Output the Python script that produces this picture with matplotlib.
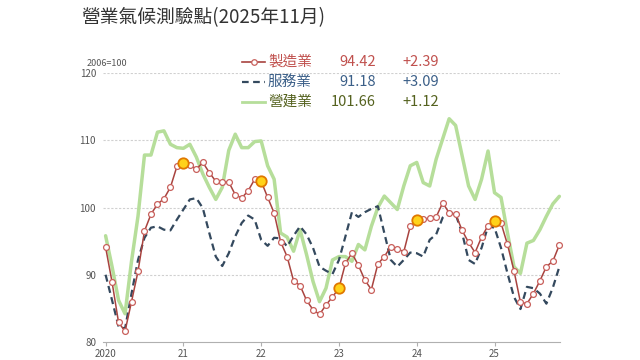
import numpy as np
import matplotlib
matplotlib.use("Agg")
import matplotlib.pyplot as plt
from matplotlib.lines import Line2D

plt.rcParams['font.family'] = ['Noto Sans CJK TC', 'DejaVu Sans']

# Monthly index, Jan 2020 .. Nov 2025 (2006=100)
year_labels = ["2020", "21", "22", "23", "24", "25"]

manufacturing = [94.1, 88.9, 82.9, 81.6, 86.0, 90.5, 96.5, 99.0, 100.5, 101.3, 103.0, 106.1,
                 106.6, 106.3, 105.7, 106.7, 105.2, 103.9, 103.8, 103.8, 101.9, 101.4, 102.5, 104.2,
                 103.9, 101.5, 99.2, 94.9, 92.7, 89.1, 88.4, 86.2, 84.8, 84.1, 85.5, 86.7,
                 88.0, 91.7, 93.2, 91.4, 89.2, 87.8, 91.6, 92.7, 94.2, 93.9, 93.4, 97.2,
                 98.1, 98.3, 98.4, 98.6, 100.7, 99.2, 99.0, 96.6, 94.8, 93.3, 95.6, 97.3,
                 98.0, 97.7, 94.5, 90.6, 85.9, 85.7, 87.2, 89.1, 91.2, 92.03, 94.42]

services = [90.0, 86.2, 82.3, 82.0, 87.2, 92.2, 95.5, 97.0, 97.2, 96.7, 96.6, 98.2,
            99.7, 101.2, 101.4, 99.9, 96.2, 92.7, 91.3, 93.2, 95.7, 97.7, 98.8, 98.2,
            95.2, 94.3, 95.5, 95.4, 94.2, 95.8, 97.2, 96.0, 94.0, 91.2, 90.6, 90.1,
            92.2, 95.7, 99.3, 98.6, 99.3, 99.8, 100.2, 96.2, 92.2, 91.2, 92.2, 93.3,
            93.2, 92.7, 95.2, 96.0, 98.5, 99.3, 99.0, 96.2, 92.2, 91.6, 94.0, 97.2,
            97.0, 94.0, 90.2, 86.7, 84.9, 88.2, 88.0, 87.2, 85.7, 88.09, 91.18]

construction = [95.8, 91.2, 86.2, 84.2, 92.0, 98.7, 107.8, 107.8, 111.2, 111.4, 109.4, 108.9,
                108.8, 109.4, 107.5, 105.0, 103.0, 101.2, 103.0, 108.5, 110.9, 108.9, 108.9, 109.8,
                109.9, 106.2, 104.2, 96.2, 95.6, 93.5, 96.7, 93.0, 89.0, 86.0, 88.0, 92.2,
                92.7, 92.7, 92.0, 94.5, 93.7, 97.2, 100.0, 101.7, 100.7, 99.7, 103.2, 106.2,
                106.7, 103.7, 103.2, 107.2, 110.2, 113.2, 112.2, 107.7, 103.2, 101.2, 104.2, 108.4,
                102.2, 101.5, 96.2, 91.2, 90.2, 94.7, 95.1, 96.7, 98.7, 100.54, 101.66]

highlight_idx = [12, 24, 36, 48, 60]

series_names = ["製造業", "服務業", "營建業"]
latest = ["94.42", "91.18", "101.66"]
changes = ["+2.39", "+3.09", "+1.12"]

title = "營業氣候測驗點(2025年11月)"

c_man = "#a8433f"
c_man_edge = "#c8605c"
c_srv = "#34495e"
c_con = "#b6de9a"
txt_colors = ["#c0504d", "#3b5f88", "#55621f"]

fig = plt.figure(figsize=(6.4, 3.6), dpi=100)
ax = fig.add_axes([103 / 640, 18 / 360, (560 - 103) / 640, (342 - 73) / 360])

x = np.arange(len(manufacturing))

ax.plot(x, construction, color=c_con, lw=2.5, solid_capstyle='round',
        solid_joinstyle='round', zorder=2, clip_on=False)
ax.plot(x, services, color=c_srv, lw=1.6, ls=(0, (3.2, 2.0)), zorder=3, clip_on=False)
ax.plot(x, manufacturing, color=c_man, lw=1.1, zorder=4, marker='o', ms=4.2,
        mfc='white', mec=c_man_edge, mew=0.9, clip_on=False)
ax.plot(x, manufacturing, ls='none', marker='o', ms=7.5, mfc='#ffd21a', mec='#e07800',
        mew=1.3, markevery=highlight_idx, zorder=5, clip_on=False)

ax.set_xlim(-0.4, 70.1)
ax.set_ylim(80, 120)
ax.set_yticks([80, 90, 100, 110, 120])
ax.set_yticklabels(["80", "90", "100", "110", "120"])
ax.set_xticks(np.arange(0, 61, 12))
ax.set_xticklabels(year_labels)

for v in [90, 100, 110, 120]:
    ax.axhline(v, color="#d0d0d0", lw=0.8, ls=(0, (2, 1.5)), zorder=1)

for s in ["top", "right", "left"]:
    ax.spines[s].set_visible(False)
ax.spines["bottom"].set_color("#b0b0b0")
ax.spines["bottom"].set_linewidth(0.8)
ax.tick_params(axis='y', length=0, pad=5, labelsize=7, labelcolor="#555555")
ax.tick_params(axis='x', length=3, width=0.8, color="#b0b0b0", pad=2,
               labelsize=7, labelcolor="#555555", direction='out')

fig.text(81 / 640, 1 - 18 / 360, title, fontsize=13.5, color="#333333",
         ha='left', va='center')
fig.text(87 / 640, 1 - 63 / 360, "2006=100", fontsize=6.5, color="#555555",
         ha='left', va='center')

rows_y = [61.5, 81.5, 102]
for i, (name, val, chg) in enumerate(zip(series_names, latest, changes)):
    yf = 1 - rows_y[i] / 360
    x0, x1 = 242 / 640, 265 / 640
    if i == 0:
        fig.add_artist(Line2D([x0, x1], [yf, yf], color=c_man, lw=1.2, transform=fig.transFigure))
        fig.add_artist(Line2D([(x0 + x1) / 2], [yf], marker='o', ms=4, mfc='white',
                              mec=c_man_edge, mew=0.9, transform=fig.transFigure))
    elif i == 1:
        fig.add_artist(Line2D([x0, x1], [yf, yf], color=c_srv, lw=1.6, ls=(0, (3, 2)),
                              transform=fig.transFigure))
    else:
        fig.add_artist(Line2D([x0, x1], [yf, yf], color=c_con, lw=2.0, transform=fig.transFigure))
    fig.text(268 / 640, yf, name, fontsize=10.5, color=txt_colors[i], ha='left', va='center')
    fig.text(376 / 640, yf, val, fontsize=10.5, color=txt_colors[i], ha='right', va='center')
    fig.text(439 / 640, yf, chg, fontsize=10.5, color=txt_colors[i], ha='right', va='center')

fig.savefig("out.png", dpi=100)
